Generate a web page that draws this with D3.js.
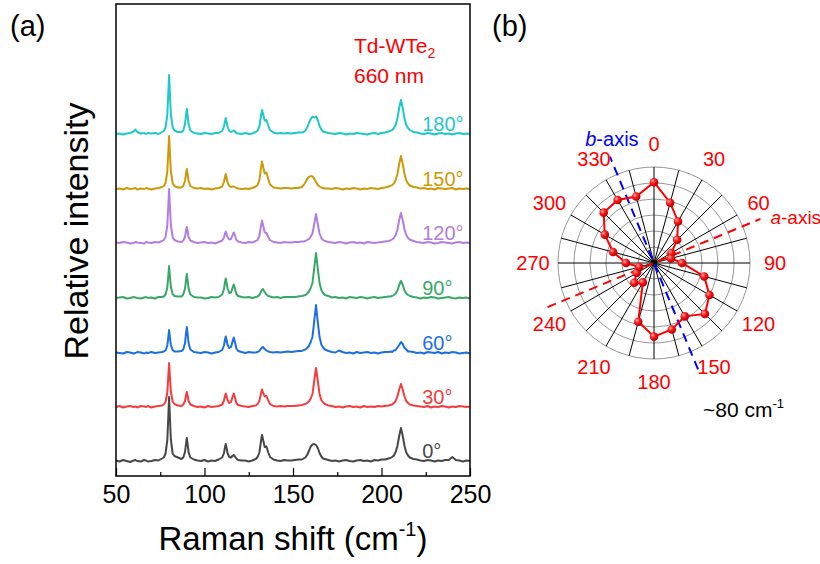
<!DOCTYPE html>
<meta charset="utf-8" />
<style>
  body { margin: 0; background: #fff; }
  svg text { font-family: "Liberation Sans", Arial, Helvetica, sans-serif; }
</style>
<svg id="chart" width="820" height="564"></svg>
<script src="https://d3js.org/d3.v7.min.js"></script>
<script>
  // ---- panel (a): Raman spectra ----
  // shared Raman shift grid (cm-1)
  var shift = [
    50, 52, 54, 56, 58, 60, 61, 62, 64, 66, 67, 68, 70, 72, 74, 76, 77,
    78, 79, 79.5, 80, 80.5, 81, 82, 83,
    85, 87, 88, 89, 89.5, 90, 90.5, 91, 92, 94, 96,
    98, 100, 102, 104, 106, 108, 110,
    111, 111.5, 112, 112.5, 113, 114, 115, 116, 116.5, 117, 118, 119, 121,
    123, 125, 127, 129, 130, 131, 132, 132.5, 133, 134, 135, 136, 137, 139, 141, 143, 145, 147,
    149, 151, 153, 155, 156, 157, 158, 159, 160, 161, 162, 163, 164, 165, 166, 167, 168, 170,
    172, 174, 176, 178, 180, 182, 184, 186, 188, 190, 192, 194, 196, 198, 200, 202, 204,
    205, 206, 207, 208, 209, 210, 211, 212, 213, 214, 215, 216,
    218, 220, 222, 224, 226, 228, 230, 232, 234, 236, 238, 240, 242, 244, 246, 248, 250
  ];

  var angleLabels = ["0°", "30°", "60°", "90°", "120°", "150°", "180°"];
  var colors = ["#474747", "#f23d3f", "#1c6fe0", "#3aa76a", "#b27ee2", "#cc9a08", "#1ec8c8"];
  var offsets = [0, 54, 108, 163, 218, 272, 327];

  var spec0 = [
    0.5, -0.5, 1, 0, -1, 0.5, 1, 0, -0.5, 1, 0.5, -0.5, 0, 1, 0.5, 2.5, 3.5,
    7.5, 21, 42, 64, 42, 21.5, 7.5, 5,
    3.5, 2, 3.5, 9, 16.5, 23, 16.5, 9, 3.5, 1.5, 0.5,
    0, 1, -0.5, 0.5, 0, 1.5, 3.5,
    8, 13, 17, 13, 8, 4, 3.5, 5.5, 6, 5, 2.5, 1, 0.5,
    0.5, -0.5, 0.5, 2, 4, 8.5, 21, 26, 22, 14, 14.5, 8.5, 4, 1.5, 0.5, 0, 1, 0.5,
    0.5, 1, 1.5, 1.5, 2.5, 3.5, 6, 10, 14.5, 16.5, 17, 16, 13, 8, 4.5, 2.5, 2, 1,
    0, 0.5, -0.5, 0.5, 1, 0, -0.5, 0.5, 1, 0, 0.5, -0.5, 1, 0.5, 1.5, 1.5, 2.5,
    3, 4, 5.5, 9, 15, 25, 33, 25, 15, 8.5, 5.5, 3.5,
    2, 1.5, 0.5, 0, 1, 0.5, -0.5, 0.5, 0, 1, 1, 4, 1, 0.5, -0.5, 0.5, 0
  ];
  var spec30 = [
    0, 1, -0.5, 0.5, 1, 0, 0.5, -0.5, 1, 0.5, 0, 1, -0.5, 0.5, 1, 1.5, 2.5,
    5, 14.5, 29, 44, 29, 15, 5.5, 3,
    1.5, 1, 2.5, 6, 11, 15, 11, 6, 2.5, 1, 0,
    0.5, -0.5, 1, 0, 0.5, 1, 2.5,
    6.5, 10.5, 13.5, 10.5, 7, 4, 5, 11, 13.5, 11, 4, 2, 1,
    0.5, 0, 1, 1.5, 3, 6, 14, 17.5, 15, 10.5, 11, 6.5, 3, 1, 0.5, 1, 0.5, 1,
    1, 1, 1.5, 2, 2.5, 3, 4, 5.5, 8.5, 13, 26, 39, 26, 13, 7, 4.5, 3, 1.5,
    1, 0, 0.5, -0.5, 0.5, 1, 0, 0.5, -0.5, 1, 0, 0.5, 0, 1, 0.5, 1, 1.5,
    2, 2.5, 4, 6, 10.5, 17.5, 23, 17.5, 10.5, 6, 4, 2.5,
    1.5, 1, 0.5, 0, 1, -0.5, 0.5, 0, 1, 0.5, -0.5, 0.5, 0, 1, 0.5, 0, 0.5
  ];
  var spec60 = [
    0.5, 0, -0.5, 1, 0.5, -0.5, 0, 1, 0.5, -0.5, 0.5, 0, 1, 0, 0.5, 1, 1.5,
    2.5, 7.5, 15, 23, 15, 8, 3, 1.5,
    1.5, 2, 3.5, 10, 18.5, 26, 18.5, 10, 3.5, 1, 0.5,
    0, 1, 0.5, -0.5, 0.5, 1, 3,
    7.5, 12.5, 16.5, 13, 8.5, 5, 6, 12.5, 15.5, 12.5, 4.5, 2, 1,
    0, 1, 0.5, 0.5, 1, 2, 4.5, 5.5, 6, 4, 2.5, 1.5, 1, 0.5, 1, 0.5, 1, 1.5,
    1, 1.5, 2, 2, 3, 3.5, 5, 7, 11, 16, 32, 48, 31, 16, 8.5, 5.5, 3.5, 2,
    1, 0.5, 2.5, 1, 0, 0.5, -0.5, 1, 0, 0.5, 1, 0, 0.5, -0.5, 0.5, 1, 1,
    1.5, 1, 2.5, 3, 5.5, 8, 11, 9, 5, 3.5, 1.5, 1.5,
    1, 0, 0.5, -0.5, 1, 0.5, 0, 1, -0.5, 0.5, 0, 1, 0.5, -0.5, 0, 0.5, -0.5
  ];
  var spec90 = [
    0, 0.5, 1, -0.5, 0, 1, 0.5, 0, -0.5, 0.5, 1, 0, 0.5, -0.5, 1, 1, 1.5,
    3.5, 10.5, 21, 32, 21, 11, 4, 2,
    1.5, 1.5, 3.5, 9.5, 17, 24, 17, 9.5, 3.5, 1, 0.5,
    0.5, -0.5, 0, 1, 0.5, 1, 3.5,
    9, 15, 19.5, 15, 9.5, 5, 5.5, 11, 13.5, 11, 4, 2, 1,
    0.5, 1, 0, 1, 1.5, 3, 6.5, 8, 9, 6, 3.5, 2, 1.5, 0.5, 1, 0, 1, 1,
    1, 1, 1.5, 2, 2.5, 3, 4.5, 6.5, 10, 15, 30, 45, 29.5, 15, 8, 5, 3, 2,
    0.5, 1, 0, 0.5, -0.5, 1, 0.5, 0, 1, 0.5, -0.5, 0.5, 1, 0, 0.5, 1, 1.5,
    1.5, 2, 3, 4.5, 7.5, 13, 17, 13, 7.5, 4.5, 3, 2,
    1, 0.5, -0.5, 0.5, 0, 1, 0.5, -0.5, 0, 0.5, 1, 0, -0.5, 0.5, 0, 0.5, -0.5
  ];
  var spec120 = [
    0.5, 0, 1, 0.5, -0.5, 0, 1, 0.5, 0, -0.5, 1, 0.5, 0, 1, 0.5, 2, 3,
    6, 18, 35.5, 54, 35.5, 18, 6, 3,
    1.5, 1, 2.5, 6, 11.5, 16, 11.5, 6, 2.5, 1, 0,
    0.5, 1, 0, 0.5, -0.5, 1, 2.5,
    5.5, 9, 11.5, 9, 6, 3.5, 4, 8.5, 10.5, 8.5, 3, 1.5, 0.5,
    0, 1, 0.5, 2, 3, 7, 18, 22.5, 18.5, 10.5, 10, 6, 3, 1, 0.5, 0, 1, 0.5,
    0.5, 1, 1, 1.5, 1.5, 2, 3, 4, 6.5, 9.5, 19, 29, 19, 9.5, 5, 3, 2, 1,
    0.5, 0, 1, 0.5, -0.5, 0.5, 1, 0, 0.5, -0.5, 1, 0.5, 0, 0.5, 1, 1.5, 2,
    2.5, 3.5, 5, 8, 13.5, 23, 30, 23, 13.5, 8, 5, 3.5,
    2, 1, 0.5, 0, 1, 0.5, -0.5, 0, 1, 0.5, 0, -0.5, 0.5, 1, 0, 0.5, 0
  ];
  var spec150 = [
    0, 0.5, -0.5, 1, 0, 0.5, 1, -0.5, 0.5, 0, 1, 0.5, -0.5, 0.5, 1, 2, 3,
    6, 17.5, 35, 53, 35, 17.5, 6, 3,
    1.5, 1.5, 3, 8, 14.5, 20, 14.5, 8, 3, 1, 0.5,
    1, 0, 0.5, -0.5, 0.5, 1, 2.5,
    7, 11.5, 15, 11.5, 7, 3, 2, 2.5, 2.5, 2, 1, 0.5, 0,
    0.5, 0, 1, 2.5, 4, 9, 22, 27.5, 23.5, 15.5, 16.5, 10, 4.5, 1.5, 1, 0.5, 1, 1,
    0.5, 1, 1, 2, 4, 6.5, 10, 12, 13, 12.5, 10.5, 7, 4, 2.5, 1.5, 1, 0.5, 0.5,
    0, 1, 0.5, -0.5, 0.5, 0, 1, 0.5, -0.5, 0.5, 0, 1, 0.5, 0, 1, 1.5, 2.5,
    3, 4, 5.5, 9, 15, 25, 33, 25, 15, 8.5, 5.5, 3.5,
    2, 1.5, 0.5, 1, 0, 0.5, -0.5, 1, 0.5, 0, 0.5, 1, -0.5, 0.5, 0, 0.5, 0
  ];
  var spec180 = [
    0, 0.5, -0.5, 0.5, 1, 2.5, 4.5, 2, 0.5, 1, 0, 1, 0.5, 1, 0, 2, 3,
    6.5, 19.5, 39, 59, 39, 19.5, 7, 3.5,
    2, 2, 3.5, 10, 18, 25, 18, 10, 3.5, 1, 0.5,
    0, 1, 0.5, 0, 1, 1, 3,
    7.5, 12, 16, 12, 7.5, 3, 2, 3, 3.5, 3, 1, 0.5, 0,
    1, 0, 0.5, 2, 3.5, 7.5, 19, 24, 20.5, 13.5, 14, 8.5, 4, 1.5, 0.5, 1, 0.5, 1,
    0.5, 1, 1.5, 1.5, 2, 3.5, 6.5, 11, 15, 17.5, 16.5, 17.5, 14, 8, 4.5, 2.5, 2, 1,
    0.5, 0, 1, 0.5, -0.5, 0.5, 0, 1, 0.5, 0, -0.5, 0.5, 1, 0, 1, 1.5, 2.5,
    3, 4, 6, 9, 15.5, 26, 34, 26, 15.5, 9, 6, 4,
    2, 1.5, 0.5, 0, 1, 0.5, -0.5, 0.5, 1, 0, 0.5, -0.5, 0.5, 1, 0, 0.5, 0
  ];
  var spectra = [spec0, spec30, spec60, spec90, spec120, spec150, spec180];

  var xTicks = [50, 100, 150, 200, 250];
  var xMinorTicks = [75, 125, 175, 225];

  // ---- panel (b): polar plot of the ~80 cm-1 mode ----
  var polarAngles = [0, 15, 30, 45, 60, 75, 90, 105, 120, 135, 150, 165,
    180, 195, 210, 225, 240, 255, 270, 285, 300, 315, 330, 345];
  var polarValues = [1.01, 0.78, 0.60, 0.41, 0.25, 0.22, 0.35, 0.65, 0.80, 0.90, 0.77, 0.86,
    0.92, 0.76, 0.28, 0.35, 0.25, 0.19, 0.35, 0.53, 0.71, 0.89, 0.91, 0.86];
  var ringValues = [0.2, 0.4, 0.6, 0.8, 1.0, 1.2];
  var spokeAngles = [0, 15, 30, 45, 60, 75, 90, 105, 120, 135, 150, 165,
    180, 195, 210, 225, 240, 255, 270, 285, 300, 315, 330, 345];
  var labelAngles = [0, 30, 60, 90, 120, 150, 180, 210, 240, 270, 300, 330];
  var crystalAxes = [
    { name: "b", angle: 337.5, color: "#0000ff" },
    { name: "a", angle: 67.5, color: "#ff0000" }
  ];

  var svg = d3.select("#chart");

  var plot = { left: 116, right: 470, top: 4, bottom: 476 };
  var x = d3.scaleLinear().domain([50, 250]).range([plot.left, plot.right]);
  var y = d3.scaleLinear().domain([-15, 457]).range([plot.bottom, plot.top]);

  var line = d3.line()
    .x(function(d) { return x(d[0]); })
    .y(function(d) { return y(d[1]); });

  var gA = svg.append("g");

  spectra.forEach(function(vals, i) {
    var pts = d3.zip(shift, vals).map(function(p) { return [p[0], p[1] + offsets[i]]; });
    gA.append("path")
      .datum(pts)
      .attr("d", line)
      .attr("fill", "none")
      .attr("stroke", colors[i])
      .attr("stroke-width", 2)
      .attr("stroke-linejoin", "round");
    gA.append("text")
      .attr("x", x(223))
      .attr("y", y(offsets[i]) - 3)
      .attr("fill", colors[i])
      .attr("font-size", 20)
      .text(angleLabels[i]);
  });

  // axis ticks (inward)
  var xAxis = d3.axisBottom(x).tickValues(xTicks).tickSize(-8).tickPadding(9);
  var gx = gA.append("g")
    .attr("transform", "translate(0," + plot.bottom + ")")
    .call(xAxis);
  gx.select(".domain").remove();
  gx.selectAll("line").attr("stroke", "#000").attr("stroke-width", 1.2);
  gx.selectAll("text")
    .attr("font-size", 25)
    .attr("fill", "#000")
    .attr("font-family", "'Liberation Sans', Arial, sans-serif");

  var gxm = gA.append("g")
    .attr("transform", "translate(0," + plot.bottom + ")")
    .call(d3.axisBottom(x).tickValues(xMinorTicks).tickSize(-4).tickFormat(""));
  gxm.select(".domain").remove();
  gxm.selectAll("line").attr("stroke", "#000").attr("stroke-width", 1.2);

  gA.append("rect")
    .attr("x", plot.left)
    .attr("y", plot.top)
    .attr("width", plot.right - plot.left)
    .attr("height", plot.bottom - plot.top)
    .attr("fill", "none")
    .attr("stroke", "#000")
    .attr("stroke-width", 1.5);

  // axis titles
  var xt = gA.append("text")
    .attr("x", (plot.left + plot.right) / 2)
    .attr("y", 550)
    .attr("text-anchor", "middle")
    .attr("font-size", 33)
    .attr("fill", "#000");
  xt.append("tspan").text("Raman shift (cm");
  xt.append("tspan").attr("font-size", 20).attr("dy", -14).text("-1");
  xt.append("tspan").attr("dy", 14).text(")");

  gA.append("text")
    .attr("transform", "translate(88,231) rotate(-90)")
    .attr("text-anchor", "middle")
    .attr("font-size", 34)
    .attr("fill", "#000")
    .text("Relative intensity");

  var ttl = gA.append("text")
    .attr("x", 354).attr("y", 53)
    .attr("font-size", 21).attr("fill", "#ff0000");
  ttl.append("tspan").text("Td-WTe");
  ttl.append("tspan").attr("font-size", 14).attr("dy", 5).text("2");
  gA.append("text")
    .attr("x", 354).attr("y", 83)
    .attr("font-size", 21).attr("fill", "#ff0000")
    .text("660 nm");

  svg.append("text").attr("x", 10).attr("y", 36).attr("font-size", 29).text("(a)");
  svg.append("text").attr("x", 492).attr("y", 36).attr("font-size", 29).text("(b)");

  // ---- panel (b) drawing ----
  var cx = 654, cy = 263;
  var r = d3.scaleLinear().domain([0, 1.2]).range([0, 96]);
  var gB = svg.append("g").attr("transform", "translate(" + cx + "," + cy + ")");
  var rad = function(a) { return a * Math.PI / 180; };

  var defs = svg.append("defs");
  var grad = defs.append("radialGradient").attr("id", "ball")
    .attr("cx", "35%").attr("cy", "35%").attr("r", "65%");
  grad.append("stop").attr("offset", "0%").attr("stop-color", "#ffb0b0");
  grad.append("stop").attr("offset", "45%").attr("stop-color", "#ff1a1a");
  grad.append("stop").attr("offset", "100%").attr("stop-color", "#b80000");

  gB.selectAll("circle.ring")
    .data(ringValues)
    .enter().append("circle")
    .attr("class", "ring")
    .attr("r", function(d) { return r(d); })
    .attr("fill", "none")
    .attr("stroke", "#8a8a8a")
    .attr("stroke-width", 0.9);

  gB.selectAll("line.spoke")
    .data(spokeAngles)
    .enter().append("line")
    .attr("class", "spoke")
    .attr("x1", 0).attr("y1", 0)
    .attr("x2", function(d) { return r(1.2) * Math.sin(rad(d)); })
    .attr("y2", function(d) { return -r(1.2) * Math.cos(rad(d)); })
    .attr("stroke", "#000")
    .attr("stroke-width", 1);

  // dashed crystal axes
  crystalAxes.forEach(function(ax) {
    var L = r(1.44);
    gB.append("line")
      .attr("x1", -L * Math.sin(rad(ax.angle)))
      .attr("y1", L * Math.cos(rad(ax.angle)))
      .attr("x2", L * Math.sin(rad(ax.angle)))
      .attr("y2", -L * Math.cos(rad(ax.angle)))
      .attr("stroke", ax.color)
      .attr("stroke-width", 2)
      .attr("stroke-dasharray", "9,6");
    var ex = cx + L * Math.sin(rad(ax.angle)), ey = cy - L * Math.cos(rad(ax.angle));
    var t = svg.append("text").attr("fill", ax.color);
    if (ax.name === "b") {
      t.attr("x", ex + 2).attr("y", ey - 11).attr("text-anchor", "middle").attr("font-size", 20);
    } else {
      t.attr("x", ex + 10).attr("y", ey + 5).attr("font-size", 19);
    }
    t.append("tspan").attr("font-style", "italic").text(ax.name);
    t.append("tspan").text("-axis");
  });

  var pdata = d3.zip(polarAngles, polarValues);
  var radial = d3.lineRadial()
    .angle(function(d) { return rad(d[0]); })
    .radius(function(d) { return r(d[1]); })
    .curve(d3.curveLinearClosed);
  gB.append("path")
    .datum(pdata)
    .attr("d", radial)
    .attr("fill", "none")
    .attr("stroke", "#ff0000")
    .attr("stroke-width", 2);

  gB.selectAll("circle.pt")
    .data(pdata)
    .enter().append("circle")
    .attr("class", "pt")
    .attr("cx", function(d) { return r(d[1]) * Math.sin(rad(d[0])); })
    .attr("cy", function(d) { return -r(d[1]) * Math.cos(rad(d[0])); })
    .attr("r", 4.3)
    .attr("fill", "url(#ball)");

  gB.selectAll("text.alab")
    .data(labelAngles)
    .enter().append("text")
    .attr("class", "alab")
    .attr("x", function(d) { return (119 + 2 * Math.abs(Math.sin(rad(d)))) * Math.sin(rad(d)); })
    .attr("y", function(d) { return -(119 + 2 * Math.abs(Math.sin(rad(d)))) * Math.cos(rad(d)); })
    .attr("dy", "0.36em")
    .attr("text-anchor", "middle")
    .attr("font-size", 20)
    .attr("fill", "#ff0000")
    .text(function(d) { return d; });

  var note = svg.append("text").attr("x", 703).attr("y", 417)
    .attr("font-size", 21).attr("fill", "#000");
  note.append("tspan").text("~80 cm");
  note.append("tspan").attr("font-size", 13).attr("dy", -9).text("-1");
</script>
